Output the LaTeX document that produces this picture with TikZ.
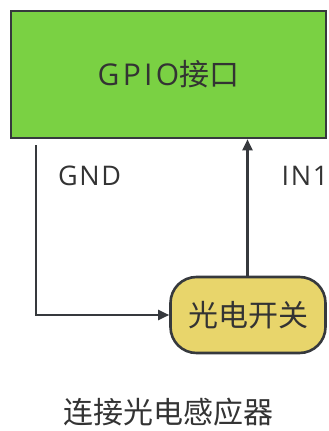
\documentclass[tikz,border=0pt]{standalone}
\usepackage{fontspec}
\setmainfont{Noto Sans CJK SC}
\newfontfamily\latinA{Open Sans}[LetterSpace=11]
\newfontfamily\latinB{Open Sans}[LetterSpace=6]
\usetikzlibrary{arrows.meta}
\definecolor{gbox}{HTML}{7AD143}
\definecolor{ybox}{HTML}{E8D56B}
\definecolor{edge}{HTML}{36393D}
\definecolor{txt}{HTML}{333333}
\tikzset{
  box/.style={draw=edge, line width=2.6pt, text=txt, inner sep=0pt, font=\fontsize{30}{34}\selectfont},
  wire/.style={draw=edge, line width=2.2pt, -{Triangle[length=11pt,width=10pt]}},
  lbl/.style={text=txt, font=\fontsize{27}{30}\selectfont, inner sep=0pt},
  cjk/.style={text=txt, font=\fontsize{30}{34}\selectfont, inner sep=0pt}
}
\begin{document}
\begin{tikzpicture}[x=1pt,y=-1pt]
\useasboundingbox (0,0) rectangle (329,431);
\node[box, fill=gbox, minimum width=315pt, minimum height=127pt] (gpio) at (168.5,74.5) {{\latinA GPIO}接口};
\node[box, fill=ybox, rounded corners=26pt, minimum width=155pt, minimum height=76pt] (sw) at (248,315) {光电开关};
\coordinate (gl) at (36,145);
\coordinate (corner) at (36,315);
\draw[wire] (gl) -- (corner) -- (sw.west);
\draw[wire] (sw.north -| 247.5,0) -- (gpio.south -| 247.5,0);
\node[lbl] (gnd) at (89.5,176) {\latinB GND};
\node[lbl] (in1) at (305,176) {\latinB IN1};
\node[cjk] (cap) at (168.5,412) {连接光电感应器};
\end{tikzpicture}
\end{document}
